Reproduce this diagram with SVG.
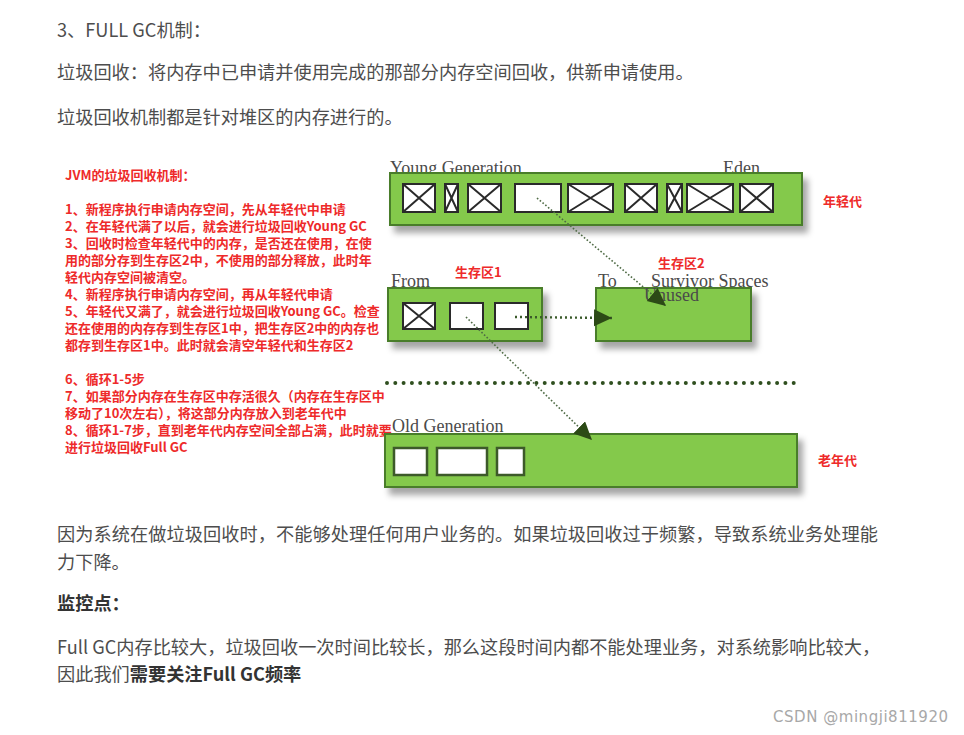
<svg xmlns="http://www.w3.org/2000/svg" width="964" height="735" viewBox="0 0 964 735">
<style>
.body{font-family:"Noto Sans CJK SC","Noto Sans",sans-serif;font-size:18.2px;fill:#4d4d4d}
.bold{font-weight:bold;fill:#333}
.red{font-family:"Noto Sans CJK SC","Noto Sans",sans-serif;font-size:13px;font-weight:bold;fill:#ee2a2a}
.serif{font-family:"Liberation Serif","DejaVu Serif",serif;font-size:18px;fill:#4a4a4a}
.gen{fill:#84c94c;stroke:#4a7d2b;stroke-width:2;filter:url(#sh)}
.cell{fill:#fff;stroke:#2a2a2a;stroke-width:2}
.ocell{fill:#fff;stroke:#3d5a2a;stroke-width:2.5}
.x{stroke:#2a2a2a;stroke-width:2;fill:none}
.dot{fill:none;stroke:#4f6b45;stroke-width:1.6;stroke-dasharray:1.6 2}
</style>
<defs>
<filter id="sh" x="-5%" y="-20%" width="115%" height="160%">
<feDropShadow dx="5" dy="7" stdDeviation="3" flood-color="#000" flood-opacity="0.35"/>
</filter>
<marker id="ah" markerUnits="userSpaceOnUse" markerWidth="20" markerHeight="20" refX="18" refY="8.5" orient="auto">
<path d="M0,0 L18,8.5 L0,17 z" fill="#2c4a16"/>
</marker>
</defs>

<g id="article-text">
<text class="body" x="57" y="37">3、FULL GC机制：</text>
<text class="body" x="57" y="79">垃圾回收：将内存中已申请并使用完成的那部分内存空间回收，供新申请使用。</text>
<text class="body" x="57" y="124">垃圾回收机制都是针对堆区的内存进行的。</text>
<text class="body" x="57" y="541" textLength="821">因为系统在做垃圾回收时，不能够处理任何用户业务的。如果垃圾回收过于频繁，导致系统业务处理能</text>
<text class="body" x="57" y="569">力下降。</text>
<text class="body bold" x="57" y="610">监控点：</text>
<text class="body" x="57" y="654">Full GC内存比较大，垃圾回收一次时间比较长，那么这段时间内都不能处理业务，对系统影响比较大，</text>
<text class="body" x="57" y="681">因此我们<tspan class="bold">需要关注Full GC频率</tspan></text>
<text x="773" y="722" textLength="175" style="font-family:'DejaVu Sans',sans-serif;font-size:15px;fill:#a8a8a8">CSDN @mingji811920</text>
</g>

<g id="notes">
<text class="red" x="65" y="180">JVM的垃圾回收机制：</text>
<text class="red" x="65" y="214">1、新程序执行申请内存空间，先从年轻代中申请</text>
<text class="red" x="65" y="231">2、在年轻代满了以后，就会进行垃圾回收Young GC</text>
<text class="red" x="65" y="248">3、回收时检查年轻代中的内存，是否还在使用，在使</text>
<text class="red" x="65" y="265">用的部分存到生存区2中，不使用的部分释放，此时年</text>
<text class="red" x="65" y="282">轻代内存空间被清空。</text>
<text class="red" x="65" y="299">4、新程序执行申请内存空间，再从年轻代申请</text>
<text class="red" x="65" y="316">5、年轻代又满了，就会进行垃圾回收Young GC。检查</text>
<text class="red" x="65" y="333">还在使用的内存存到生存区1中，把生存区2中的内存也</text>
<text class="red" x="65" y="350">都存到生存区1中。此时就会清空年轻代和生存区2</text>
<text class="red" x="65" y="384">6、循环1-5步</text>
<text class="red" x="65" y="401">7、如果部分内存在生存区中存活很久（内存在生存区中</text>
<text class="red" x="65" y="418">移动了10次左右），将这部分内存放入到老年代中</text>
<text class="red" x="65" y="435">8、循环1-7步，直到老年代内存空间全部占满，此时就要</text>
<text class="red" x="65" y="452">进行垃圾回收Full GC</text>
</g>

<g id="young">
<text class="serif" x="390" y="174">Young Generation</text>
<text class="serif" x="723" y="174">Eden</text>
<rect class="gen" x="390" y="173" width="412" height="52"/>
<rect class="cell" x="403" y="184" width="32" height="28"/><path class="x" d="M403,184L435,212M435,184L403,212"/>
<rect class="cell" x="445" y="184" width="13" height="28"/><path class="x" d="M445,184L458,212M458,184L445,212"/>
<rect class="cell" x="468" y="184" width="33" height="28"/><path class="x" d="M468,184L501,212M501,184L468,212"/>
<rect class="cell" x="515" y="184" width="46" height="28"/>
<rect class="cell" x="568" y="184" width="45" height="28"/><path class="x" d="M568,184L613,212M613,184L568,212"/>
<rect class="cell" x="625" y="184" width="32" height="28"/><path class="x" d="M625,184L657,212M657,184L625,212"/>
<rect class="cell" x="667" y="184" width="15" height="28"/><path class="x" d="M667,184L682,212M682,184L667,212"/>
<rect class="cell" x="687" y="184" width="46" height="28"/><path class="x" d="M687,184L733,212M733,184L687,212"/>
<rect class="cell" x="740" y="184" width="33" height="28"/><path class="x" d="M740,184L773,212M773,184L740,212"/>
<text class="red" x="823" y="206">年轻代</text>
</g>

<g id="from">
<text class="serif" x="391" y="287">From</text>
<rect class="gen" x="388" y="288" width="154" height="53"/>
<rect class="cell" x="403" y="303" width="32" height="26"/><path class="x" d="M403,303L435,329M435,303L403,329"/>
<rect class="cell" x="450" y="303" width="33" height="26"/>
<rect class="cell" x="495" y="303" width="33" height="26"/>
<text class="red" x="455" y="277">生存区1</text>
</g>

<g id="to">
<text class="serif" x="598" y="287">To</text>
<text class="serif" x="651" y="287">Survivor Spaces</text>
<rect class="gen" x="596" y="288" width="155" height="53"/>
<text class="serif" x="644" y="301">Unused</text>
<text class="red" x="658" y="268">生存区2</text>
</g>

<g id="separator">
<line x1="387" y1="383" x2="802" y2="383" stroke="#2f4f1f" stroke-width="4" stroke-linecap="round" stroke-dasharray="0 8.3"/>
</g>

<g id="old">
<text class="serif" x="392" y="432">Old Generation</text>
<rect class="gen" x="385" y="434" width="412" height="53"/>
<rect class="ocell" x="394" y="448" width="33" height="27"/>
<rect class="ocell" x="437" y="448" width="50" height="27"/>
<rect class="ocell" x="497" y="448" width="27" height="27"/>
<text class="red" x="818" y="465">老年代</text>
</g>

<g id="connectors">
<line class="dot" x1="537" y1="198" x2="666" y2="306" marker-end="url(#ah)"/>
<line x1="515" y1="317" x2="612" y2="318" stroke="#3a5a2a" stroke-width="2.4" stroke-dasharray="2 3" marker-end="url(#ah)"/>
<line class="dot" x1="466" y1="317" x2="592" y2="440" marker-end="url(#ah)"/>
</g>
</svg>
